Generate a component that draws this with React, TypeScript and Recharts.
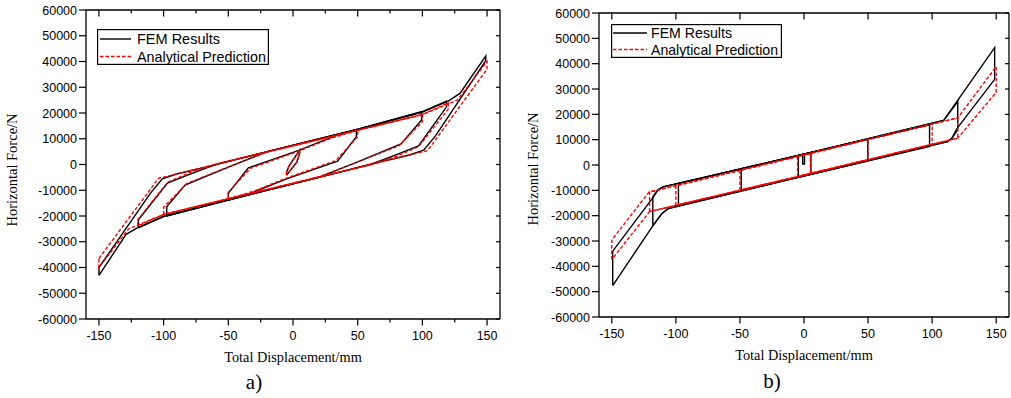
import React from "react";
import { LineChart, Line, XAxis, YAxis, Legend } from "recharts";

type Pt = [number, number];

// ---- a) hysteresis loops, FEM (solid black) ----
const femA150: Pt[] = [[-150, -43100], [-150, -40000], [-110, -11000], [-101, -5600], [-90, -3700], [-60, -150], [-40, 2500], [0, 7500], [50, 13700], [100, 20500], [120, 24600], [129, 27600], [149, 42100], [149, 40300], [110, 11000], [101, 5600], [90, 3700], [60, 150], [40, -2500], [0, -7500], [-50, -13800], [-100, -20200], [-120, -24500], [-129, -27100], [-150, -43100]];
const femA120: Pt[] = [[-119.5, -24600], [-119.5, -21500], [-97, -7200], [-80, -3800], [-60, 0], [0, 7400], [50, 13600], [100, 20400], [118.7, 24600], [118.7, 22400], [97, 7200], [80, 3800], [60, 0], [0, -7400], [-50, -13700], [-100, -20100], [-119.5, -24600]];
const femA100: Pt[] = [[-97.6, -20000], [-97.6, -16400], [-83.5, -8000], [-50, -1000], [-20, 5000], [50, 13650], [99.4, 20500], [99.4, 17300], [83.5, 8000], [50, 1000], [20, -5000], [-50, -13800], [-97.6, -20000]];
const femA50: Pt[] = [[-50, -13900], [-50, -11200], [-34.5, -1300], [5, 5600], [30, 10600], [49, 13650], [49, 10800], [34.5, 1300], [-5, -5600], [-30, -10600], [-50, -13900]];
const femA5: Pt[] = [[-5, -4200], [-5, -3000], [-3, -500], [5.2, 5600], [5.2, 4400], [3, 1000], [-5, -4200]];

// ---- a) analytical prediction (dashed red) ----
const anaA150: Pt[] = [[-150, -36500], [-104, -5400], [-50, 1300], [0, 7300], [50, 13300], [100, 19400], [127, 25000], [150, 40000], [150, 37000], [104, 5400], [50, -1300], [0, -7300], [-50, -13300], [-100, -19400], [-127, -25000], [-150, -40000], [-150, -36500]];
const anaA120: Pt[] = [[-120, -23900], [-120, -21500], [-97, -6900], [-80, -3200], [-60, 0], [0, 7300], [50, 13300], [100, 19400], [120, 23900], [120, 21500], [97, 6900], [80, 3200], [60, 0], [0, -7300], [-50, -13300], [-100, -19400], [-120, -23900]];
const anaA100: Pt[] = [[-100, -19400], [-100, -16600], [-82, -7300], [-50, -1000], [-20, 4800], [50, 13300], [100, 19400], [100, 16600], [82, 7300], [50, 1000], [20, -4800], [-50, -13300], [-100, -19400]];
const anaA50: Pt[] = [[-50, -13300], [-50, -10800], [-33, -1500], [5, 5300], [30, 10300], [50, 13300], [50, 10800], [33, 1500], [-5, -5300], [-30, -10300], [-50, -13300]];
const anaA5: Pt[] = [[-5, -4000], [-5, -3000], [-3, -600], [5, 5400], [5, 4200], [3, 800], [-5, -4000]];

// ---- b) hysteresis loops, FEM ----
const femB150: Pt[] = [[-149.3, -47600], [-149.3, -34000], [-117.6, -12700], [-114, -9800], [-110, -8600], [0, 4300], [109, 17600], [148.8, 46300], [148.8, 33800], [119.5, 14500], [115.5, 10600], [112, 9200], [0, -4300], [-106, -17200], [-111, -19200], [-117.6, -23700], [-149.3, -47600]];
const femB120: Pt[] = [[-118, -24000], [-118, -12500], [-114, -9800], [-110, -8600], [0, 4300], [109, 17600], [120, 25000], [120, 14000], [115.5, 10600], [112, 9200], [0, -4300], [-106, -17200], [-111, -19200], [-118, -24000]];
const femB100: Pt[] = [[-98, -15900], [-98, -7300], [98, 15900], [98, 7300], [-98, -15900]];
const femB50: Pt[] = [[-49, -10100], [-49, -1500], [49.8, 10200], [49.8, 1600], [-49, -10100]];
const femB5: Pt[] = [[-4.4, -4800], [-4.4, 3800], [5.4, 4900], [5.4, -3700], [-4.4, -4800]];
const femB1: Pt[] = [[-1, 4150], [-1, 400], [0.4, 400], [0.4, 4300]];

// ---- b) analytical prediction ----
const anaB150: Pt[] = [[-150, -37300], [-150, -29600], [-121, -10700], [0, 4000], [120, 18600], [150, 38800], [150, 28700], [120, 10600], [0, -4000], [-120.5, -18400], [-150, -37300]];
const anaB120: Pt[] = [[-120.5, -18400], [-120.5, -10700], [0, 4000], [120, 18600], [120, 10600], [0, -4000], [-120.5, -18400]];
const anaB100: Pt[] = [[-100, -15950], [-100, -8150], [100, 16150], [100, 8150], [-100, -15950]];
const anaB50: Pt[] = [[-50, -10100], [-50, -2100], [50, 10100], [50, 2100], [-50, -10100]];
const anaB5: Pt[] = [[-5, -4600], [-5, 3400], [5, 4600], [5, -3400], [-5, -4600]];

const seriesNames = ["FEM Results", "Analytical Prediction"];
const xTicksMinor = [-150, -125, -100, -75, -50, -25, 0, 25, 50, 75, 100, 125, 150];
const xTicksMajor = [-150, -100, -50, 0, 50, 100, 150];
const yTicks = [-60000, -50000, -40000, -30000, -20000, -10000, 0, 10000, 20000, 30000, 40000, 50000, 60000];

const SANS = '"Liberation Sans", Arial, sans-serif';
const SERIF = '"Liberation Serif", "Times New Roman", serif';
const AX = { stroke: "#000", strokeWidth: 1.3 };

const toRows = (pts: Pt[]) => pts.map(([x, y]) => ({ x, y }));

function BottomTick({ x, y, payload }: any) {
  const major = payload.value % 50 === 0;
  return (
    <g>
      <line x1={x} x2={x} y1={y} y2={y + (major ? 6.5 : 3.5)} stroke="#000" strokeWidth={1.2} />
      {major && (
        <text x={x} y={y + 20.5} textAnchor="middle" fontFamily={SANS} fontSize={12.5} fill="#000">
          {payload.value}
        </text>
      )}
    </g>
  );
}

function TopTick({ x, y, payload }: any) {
  const major = payload.value % 50 === 0;
  return <line x1={x} x2={x} y1={y} y2={y + (major ? 6.5 : 3.5)} stroke="#000" strokeWidth={1.2} />;
}

function LeftTick({ x, y, payload }: any) {
  return (
    <g>
      <line x1={x - 7} x2={x} y1={y} y2={y} stroke="#000" strokeWidth={1.2} />
      <text x={x - 9} y={y + 4.5} textAnchor="end" fontFamily={SANS} fontSize={12.5} fill="#000">
        {payload.value}
      </text>
    </g>
  );
}

function RightTick({ x, y }: any) {
  return <line x1={x - 4} x2={x} y1={y} y2={y} stroke="#000" strokeWidth={1.2} />;
}

function YTitle({ cx, cy }: any) {
  return (
    <text x={cx} y={cy} transform={`rotate(-90 ${cx} ${cy})`} textAnchor="middle" fontFamily={SERIF} fontSize={14.5} fill="#000">
      Horizontal Force/N
    </text>
  );
}

function XTitle({ cx, by, tx, tby, tag }: any) {
  return (
    <g>
      <text x={cx} y={by} textAnchor="middle" fontFamily={SERIF} fontSize={14.3} fill="#000">
        Total Displacement/mm
      </text>
      <text x={tx} y={tby} textAnchor="middle" fontFamily={SERIF} fontSize={21} fill="#000">
        {tag}
      </text>
    </g>
  );
}

function LegendBox({ w, h, r1, r2, sx1, sx2, fw1, fw2 }: any) {
  return (
    <svg width={w} height={h} style={{ display: "block", overflow: "visible" }}>
      <rect x={0.6} y={0.6} width={w - 1.2} height={h - 1.2} fill="#fff" stroke="#000" strokeWidth={1.2} />
      <line x1={sx1} x2={sx2} y1={r1} y2={r1} stroke="#000" strokeWidth={1.4} />
      <line x1={sx1} x2={sx2} y1={r2} y2={r2} stroke="#ff0000" strokeWidth={1.4} strokeDasharray="3.5 2" />
      <text x={40} y={r1 + 5.3} fontFamily={SANS} fontSize={15} fill="#000" textLength={fw1} lengthAdjust="spacingAndGlyphs">
        {seriesNames[0]}
      </text>
      <text x={40} y={r2 + 5.3} fontFamily={SANS} fontSize={15} fill="#000" textLength={fw2} lengthAdjust="spacingAndGlyphs">
        {seriesNames[1]}
      </text>
    </svg>
  );
}

function Panel({ x0, w, margin, yw, rw, fem, ana, minor, legend, yTitle, xTitle }: any) {
  const ticks = minor ? xTicksMinor : xTicksMajor;
  return (
    <div style={{ position: "absolute", left: x0, top: 0 }}>
      <LineChart width={w} height={398} margin={margin}>
        <XAxis xAxisId="b" type="number" dataKey="x" domain={[-160, 160]} allowDataOverflow ticks={ticks} interval={0}
          height={30} tickSize={0} tickMargin={0} tickLine={false} axisLine={AX} tick={<BottomTick />}
          label={<XTitle {...xTitle} />} />
        <XAxis xAxisId="t" orientation="top" type="number" dataKey="x" domain={[-160, 160]} allowDataOverflow ticks={ticks}
          interval={0} height={2} tickSize={0} tickMargin={0} tickLine={false} axisLine={AX} tick={<TopTick />} />
        <YAxis yAxisId="l" type="number" domain={[-60000, 60000]} allowDataOverflow ticks={yTicks} interval={0}
          width={yw} tickSize={0} tickMargin={0} tickLine={false} axisLine={AX} tick={<LeftTick />}
          label={<YTitle {...yTitle} />} />
        <YAxis yAxisId="r" orientation="right" type="number" domain={[-60000, 60000]} allowDataOverflow ticks={yTicks}
          interval={0} width={rw} tickSize={0} tickMargin={0} tickLine={false} axisLine={AX} tick={<RightTick />} />
        {fem.map((s: Pt[], i: number) => (
          <Line key={"f" + i} xAxisId="b" yAxisId="l" data={toRows(s)} dataKey="y" type="linear" stroke="#000"
            strokeWidth={1.4} dot={false} activeDot={false} isAnimationActive={false} legendType="none" />
        ))}
        {ana.map((s: Pt[], i: number) => (
          <Line key={"a" + i} xAxisId="b" yAxisId="l" data={toRows(s)} dataKey="y" type="linear" stroke="#ff0000"
            strokeWidth={1.4} strokeDasharray="3.5 2" dot={false} activeDot={false} isAnimationActive={false} legendType="none" />
        ))}
        <Legend layout="vertical" align="center" verticalAlign="middle"
          wrapperStyle={{ left: legend.left, top: legend.top, width: legend.w, height: legend.h, overflow: "visible" }}
          content={() => <LegendBox {...legend} />} />
      </LineChart>
    </div>
  );
}

export default function App() {
  return (
    <div style={{ position: "absolute", left: 0, top: 0, width: 1011, height: 398, background: "#fff" }}>
      <Panel
        x0={0} w={505} yw={86} rw={2} minor
        margin={{ top: 8, right: 3, bottom: 49, left: 0 }}
        fem={[femA150, femA120, femA100, femA50, femA5]}
        ana={[anaA150, anaA120, anaA100, anaA50, anaA5]}
        legend={{ left: 97, top: 29, w: 172, h: 36, r1: 10, r2: 27.5, sx1: 3, sx2: 34, fw1: 83, fw2: 129 }}
        yTitle={{ cx: 17, cy: 170 }}
        xTitle={{ cx: 293, by: 362, tx: 254, tby: 389, tag: "a)" }}
      />
      <Panel
        x0={505} w={506} yw={94} rw={1}
        margin={{ top: 11, right: 1, bottom: 51, left: 0 }}
        fem={[femB150, femB120, femB100, femB50, femB5, femB1]}
        ana={[anaB150, anaB120, anaB100, anaB50, anaB5]}
        legend={{ left: 106, top: 24, w: 171, h: 34, r1: 9, r2: 25.5, sx1: 2, sx2: 36, fw1: 81, fw2: 127 }}
        yTitle={{ cx: 32.5, cy: 169 }}
        xTitle={{ cx: 299, by: 360, tx: 267, tby: 388, tag: "b)" }}
      />
    </div>
  );
}
